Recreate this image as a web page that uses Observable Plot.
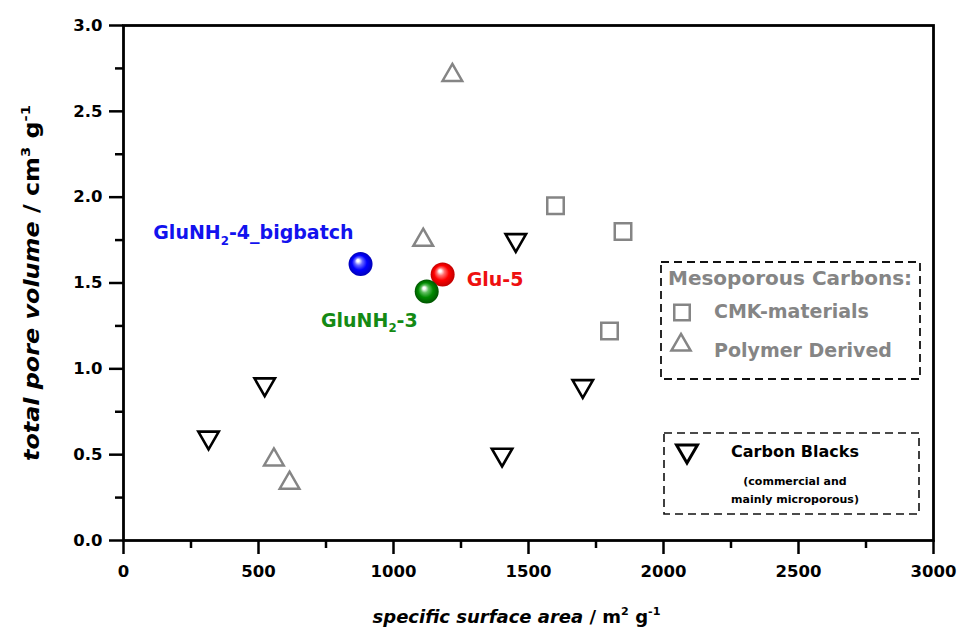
<!DOCTYPE html>
<html>
<head>
<meta charset="utf-8">
<script src="https://cdn.jsdelivr.net/npm/d3@7"></script>
<script src="https://cdn.jsdelivr.net/npm/@observablehq/plot@0.6"></script>
<style>
  html, body { margin: 0; padding: 0; background: #fff; }
  #wrap { position: relative; width: 960px; height: 628px; }
  #wrap svg { position: absolute; left: 0; top: 0; }
</style>
</head>
<body>
<div id="wrap"></div>
<script>
// ---------- data ----------
const cmkArea = [1600, 1850, 1800];
const cmkVolume = [1.95, 1.80, 1.22];

const polymerArea = [1218, 1110, 557, 615];
const polymerVolume = [2.71, 1.75, 0.47, 0.335];

const blackArea = [315, 523, 1453, 1701, 1402];
const blackVolume = [0.60, 0.91, 1.75, 0.90, 0.50];

const sampleNames = ["GluNH₂-4_bigbatch", "Glu-5", "GluNH₂-3"];
const sampleArea = [878, 1182, 1123];
const sampleVolume = [1.61, 1.55, 1.45];

const xTicks = [0, 500, 1000, 1500, 2000, 2500, 3000];
const xMinorTicks = [250, 750, 1250, 1750, 2250, 2750];
const yTicks = [0, 0.5, 1.0, 1.5, 2.0, 2.5, 3.0];
const yMinorTicks = [0.25, 0.75, 1.25, 1.75, 2.25, 2.75];

const xTitle = "specific surface area / m² g⁻¹";
const yTitle = "total pore volume / cm³ g⁻¹";

const legendMesoTitle = "Mesoporous Carbons:";
const legendMesoItems = ["CMK-materials", "Polymer Derived"];
const legendBlackTitle = "Carbon Blacks";
const legendBlackNotes = ["(commercial and", "mainly microporous)"];

// ---------- styling ----------
const FONT = "DejaVu Sans, Liberation Sans, Arial, sans-serif";
const GREY = "#858585";
const sphereBase = ["#0000ff", "#ff0000", "#008a00"];
const sphereDark = ["#0000b8", "#c00000", "#005400"];
const sphereMid = ["#6a6aff", "#ff7070", "#5fbf5f"];
const labelColors = ["#1212ee", "#ee1010", "#148a14"];
const labelOffsets = [
  {dx: -7, dy: -25, anchor: "end"},
  {dx: 24, dy: 12, anchor: "start"},
  {dx: -9, dy: 35, anchor: "end"}
];

const triangleDown = {
  draw(context, size) {
    const s3 = Math.sqrt(3);
    const y = -Math.sqrt(size / (s3 * 3));
    context.moveTo(0, -y * 2);
    context.lineTo(-s3 * y, y);
    context.lineTo(s3 * y, y);
    context.closePath();
  }
};

const cmk = cmkArea.map((x, i) => ({x, y: cmkVolume[i]}));
const polymer = polymerArea.map((x, i) => ({x, y: polymerVolume[i]}));
const blacks = blackArea.map((x, i) => ({x, y: blackVolume[i]}));
const samples = sampleNames.map((name, i) => ({name, x: sampleArea[i], y: sampleVolume[i], i}));

const tickStyle = {stroke: "#000", strokeWidth: 2.5, fontSize: 16.5, fontWeight: "bold", fontFamily: FONT, fill: "#000"};

const plot = Plot.plot({
  width: 960,
  height: 628,
  marginLeft: 123,
  marginRight: 27,
  marginTop: 25,
  marginBottom: 88,
  x: {domain: [0, 3000]},
  y: {domain: [0, 3]},
  style: {fontFamily: FONT, fontSize: "16px", fontWeight: "bold", color: "#000", background: "#fff", overflow: "visible"},
  marks: [
    Plot.axisX(xMinorTicks, {...tickStyle, tickSize: 8, tickFormat: () => "", label: null}),
    Plot.axisX(xTicks, {...tickStyle, tickSize: 14, tickPadding: 11, tickFormat: d3.format("d"), label: null}),
    Plot.axisY(yMinorTicks, {...tickStyle, tickSize: 8, tickFormat: () => "", label: null}),
    Plot.axisY(yTicks, {...tickStyle, tickSize: 14, tickPadding: 7, tickFormat: d3.format(".1f"), label: null}),
    Plot.frame({stroke: "#000", strokeWidth: 2.8}),
    Plot.dot(cmk, {x: "x", y: "y", symbol: "square", r: 9.3, stroke: GREY, strokeWidth: 2.5, fill: "none"}),
    Plot.dot(polymer, {x: "x", y: "y", symbol: "triangle", r: 7.3, stroke: GREY, strokeWidth: 2.5, fill: "none"}),
    Plot.dot(blacks, {x: "x", y: "y", symbol: triangleDown, r: 7.6, stroke: "#000", strokeWidth: 2.6, fill: "none"}),
    ...samples.map(s => Plot.dot([s], {x: "x", y: "y", r: 12, fill: `url(#ball${s.i})`, stroke: "none"})),
    ...samples.map(s => Plot.text([s], {
      x: "x", y: "y", text: "name",
      dx: labelOffsets[s.i].dx, dy: labelOffsets[s.i].dy,
      textAnchor: labelOffsets[s.i].anchor, lineAnchor: "bottom",
      fill: labelColors[s.i], fontSize: 19, fontWeight: "bold", fontFamily: FONT
    })),
    Plot.text([xTitle], {frameAnchor: "bottom", dy: 82, dx: -12, lineAnchor: "bottom", textAnchor: "middle",
      fontSize: 18, fontWeight: "bold", fontFamily: FONT, fill: "#000"}),
    Plot.text([yTitle], {frameAnchor: "left", rotate: -90, dx: -85, lineAnchor: "bottom", textAnchor: "middle",
      fontSize: 21, fontWeight: "bold", fontFamily: FONT, fill: "#000"})
  ]
});

// sphere gradients
const svgSel = d3.select(plot);
const defs = svgSel.insert("defs", ":first-child");
sphereBase.forEach((c, i) => {
  const g = defs.append("radialGradient").attr("id", `ball${i}`)
    .attr("cx", 0.5).attr("cy", 0.5).attr("r", 0.5).attr("fx", 0.38).attr("fy", 0.34);
  g.append("stop").attr("offset", "0%").attr("stop-color", "#ffffff");
  g.append("stop").attr("offset", "10%").attr("stop-color", "#ffffff");
  g.append("stop").attr("offset", "32%").attr("stop-color", sphereMid[i]);
  g.append("stop").attr("offset", "62%").attr("stop-color", c);
  g.append("stop").attr("offset", "100%").attr("stop-color", sphereDark[i]);
});

// rich text: superscripts, subscripts, italic lead
const SUP = {"²": "2", "³": "3", "¹": "1", "⁻": "-"};
const SUB = {"₂": "2"};
function richify(el) {
  const gEl = el.closest("g");
  const size = parseFloat(el.getAttribute("font-size")) || parseFloat(gEl && gEl.getAttribute("font-size")) || 18;
  const s = el.textContent;
  const slash = s.indexOf(" / ");
  const toks = [];
  [...s].forEach((ch, i) => {
    const mode = SUP[ch] ? "sup" : SUB[ch] ? "sub" : "base";
    const italic = slash >= 0 && i < slash;
    const c = SUP[ch] || SUB[ch] || ch;
    const last = toks[toks.length - 1];
    if (last && last.mode === mode && last.italic === italic) last.text += c;
    else toks.push({text: c, mode, italic});
  });
  el.textContent = "";
  let shift = 0;
  for (const t of toks) {
    const ts = document.createElementNS("http://www.w3.org/2000/svg", "tspan");
    const target = t.mode === "sup" ? -0.42 * size : t.mode === "sub" ? 0.3 * size : 0;
    if (target - shift !== 0) ts.setAttribute("dy", (target - shift).toFixed(2));
    shift = target;
    if (t.mode !== "base") ts.setAttribute("font-size", (size * 0.62).toFixed(1));
    if (t.italic) ts.setAttribute("font-style", "italic");
    ts.textContent = t.text;
    el.appendChild(ts);
  }
}
const richRe = /[²³¹⁻₂]/;
plot.querySelectorAll("text").forEach(el => {
  if (richRe.test(el.textContent)) {
    const isY = el.textContent === yTitle;
    richify(el);
    if (isY) { el.setAttribute("textLength", 356); el.setAttribute("lengthAdjust", "spacingAndGlyphs"); }
  }
});

document.getElementById("wrap").appendChild(plot);

// legends (overlay)
const leg = d3.select("#wrap").append("svg").attr("width", 960).attr("height", 628)
  .style("font-family", FONT).style("font-weight", "bold");

const box1 = leg.append("g");
box1.append("rect").attr("x", 661).attr("y", 262).attr("width", 259).attr("height", 117)
  .attr("fill", "#fff").attr("stroke", "#111").attr("stroke-width", 1.8).attr("stroke-dasharray", "8,5");
box1.append("text").attr("x", 668).attr("y", 285).attr("font-size", 20).attr("fill", GREY).text(legendMesoTitle);
box1.append("path").attr("transform", "translate(682,312.5)")
  .attr("d", d3.symbol(d3.symbolSquare, 240)()).attr("fill", "none").attr("stroke", GREY).attr("stroke-width", 2.5);
box1.append("text").attr("x", 714).attr("y", 318).attr("font-size", 19).attr("fill", GREY).text(legendMesoItems[0]);
box1.append("path").attr("transform", "translate(681,345)")
  .attr("d", d3.symbol(d3.symbolTriangle, 160)()).attr("fill", "none").attr("stroke", GREY).attr("stroke-width", 2.5);
box1.append("text").attr("x", 714).attr("y", 357).attr("font-size", 19).attr("fill", GREY).text(legendMesoItems[1]);

const box2 = leg.append("g");
box2.append("rect").attr("x", 664).attr("y", 433).attr("width", 255).attr("height", 81)
  .attr("fill", "#fff").attr("stroke", "#111").attr("stroke-width", 1.6).attr("stroke-dasharray", "8,5");
box2.append("path").attr("transform", "translate(687,451)")
  .attr("d", d3.symbol(triangleDown, 190)()).attr("fill", "none").attr("stroke", "#000").attr("stroke-width", 3);
box2.append("text").attr("x", 795).attr("y", 457).attr("text-anchor", "middle").attr("font-size", 16).attr("fill", "#000").text(legendBlackTitle);
box2.append("text").attr("x", 795).attr("y", 485).attr("text-anchor", "middle").attr("font-size", 11).attr("fill", "#000").text(legendBlackNotes[0]);
box2.append("text").attr("x", 795).attr("y", 503).attr("text-anchor", "middle").attr("font-size", 11).attr("fill", "#000").text(legendBlackNotes[1]);
</script>
</body>
</html>
